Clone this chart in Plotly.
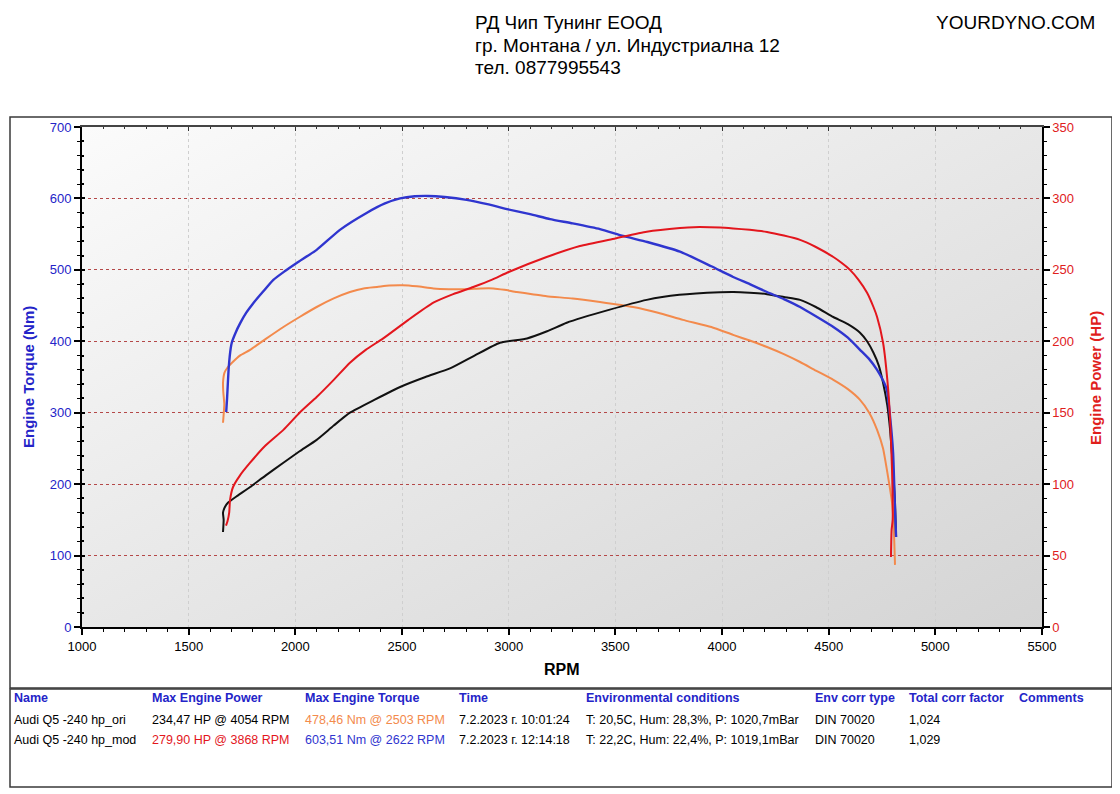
import base64
import plotly.graph_objects as go

# ---------------- data ----------------
# Audi Q5 -240 hp_mod : engine torque (Nm)  -> blue
rpm_mod_tq = [1676, 1680, 1688, 1697, 1702, 1720, 1741, 1770, 1802, 1850, 1897, 1950, 2008, 2100,
              2209, 2336, 2420, 2491, 2560, 2622, 2700, 2803, 2900, 2992, 3100, 3194, 3300, 3428,
              3536, 3650, 3803, 3950, 4052, 4130, 4211, 4290, 4366, 4440, 4522, 4590, 4647, 4690,
              4727, 4755, 4773, 4788, 4802, 4810, 4816]
tq_mod = [301, 320, 364, 390, 398, 412, 425, 440, 453, 470, 486, 498, 510, 528,
          556, 580, 593, 600, 603, 603.5, 602, 598, 592, 585, 578, 571, 565, 557,
          547.5, 539, 525.5, 505, 490, 480, 469, 459, 448, 435, 420, 405, 388, 375,
          360, 345, 332, 294, 244, 174, 126]

# Audi Q5 -240 hp_ori : engine torque (Nm)  -> orange
rpm_ori_tq = [1661, 1667, 1662, 1661, 1668, 1684, 1703, 1740, 1788, 1860, 1944, 2020, 2100, 2180,
              2256, 2320, 2383, 2440, 2503, 2570, 2647, 2720, 2803, 2870, 2928, 2980, 3038, 3110,
              3178, 3300, 3428, 3583, 3700, 3817, 3950, 4052, 4130, 4211, 4290, 4366, 4440, 4522,
              4590, 4647, 4690, 4727, 4755, 4773, 4797, 4805, 4811]
tq_ori = [286, 312, 330, 342, 356, 364, 370, 380, 388, 403, 420, 434, 448, 460,
          469, 474, 476, 478, 478.5, 477, 474, 473, 473, 474, 474, 472, 469, 466,
          463, 460, 455, 448, 440, 430, 420, 409, 401, 392, 382, 371, 359, 346,
          333, 318, 300, 276, 250, 220, 174, 140, 87]

# Audi Q5 -240 hp_mod : engine power (HP)  -> red
rpm_mod_hp = [1675, 1682, 1690, 1694, 1708, 1740, 1788, 1860, 1944, 2020, 2100, 2180, 2256, 2330,
              2412, 2530, 2647, 2740, 2834, 2920, 3000, 3178, 3334, 3500, 3647, 3803, 3868, 3991,
              4052, 4130, 4211, 4290, 4366, 4440, 4522, 4560, 4600, 4640, 4680, 4710, 4727, 4755,
              4778, 4788, 4797, 4800, 4795, 4792]
hp_mod = [71, 74, 80, 89, 98, 106, 115, 127, 138, 150, 161, 173, 185, 194,
          202, 215, 227, 233, 238, 243, 248.5, 259, 266.7, 272, 276.7, 279.3, 279.9, 279.6,
          279, 278, 276.5, 274, 271, 266, 259, 255, 250, 243, 234, 224, 217, 199,
          168, 145, 110, 75, 68, 49]

# Audi Q5 -240 hp_ori : engine power (HP)  -> black
rpm_ori_hp = [1661, 1664, 1661, 1670, 1684, 1730, 1788, 1860, 1944, 2020, 2100, 2180, 2256, 2370,
              2491, 2610, 2725, 2840, 2959, 3086, 3180, 3272, 3470, 3647, 3800, 3991, 4054, 4130,
              4211, 4290, 4366, 4440, 4522, 4590, 4647, 4680, 4710, 4735, 4755, 4775, 4788, 4802,
              4811, 4816]
hp_ori = [66.5, 75, 80, 84, 87, 92, 98, 106, 115, 123, 131, 141, 150, 159,
          168, 175, 181, 190, 199, 202, 207, 213, 222, 229, 232.5, 234.3, 234.5, 234,
          233, 231, 229, 224, 217, 212, 206, 200, 192, 183, 171, 155, 138, 110,
          87, 63]

# header / table text
header_lines = ["РД Чип Тунинг ЕООД", "гр. Монтана / ул. Индустриална 12", "тел. 0877995543"]
site_label = "YOURDYNO.COM"
table_headers = ["Name", "Max Engine Power", "Max Engine Torque", "Time",
                 "Environmental conditions", "Env corr type", "Total corr factor", "Comments"]
row_ori = ["Audi Q5 -240 hp_ori", "234,47 HP @ 4054 RPM", "478,46 Nm @ 2503 RPM",
           "7.2.2023 г. 10:01:24", "T: 20,5C, Hum: 28,3%, P: 1020,7mBar", "DIN 70020", "1,024", ""]
row_mod = ["Audi Q5 -240 hp_mod", "279,90 HP @ 3868 RPM", "603,51 Nm @ 2622 RPM",
           "7.2.2023 г. 12:14:18", "T: 22,2C, Hum: 22,4%, P: 1019,1mBar", "DIN 70020", "1,029", ""]

# ---------------- style ----------------
BLUE = "#2f35cf"
ORANGE = "#f38a4c"
RED = "#e3161d"
BLACK = "#111111"
AXBLUE = "#2424c8"
AXRED = "#e0201c"
FONT = "Liberation Sans, Arial, sans-serif"
NARROW = "Liberation Sans Narrow, Arial Narrow, Liberation Sans, sans-serif"

PAGE_W, PAGE_H = 1120, 794
OFF = 8                       # default body margin of the html page
L, R, T, B = 82, 1042, 127, 627   # plot area in page pixels


def xp(px):
    return (px - L) / (R - L)


def yp(py):
    return (B - py) / (B - T)


SMOOTH = 0.5
fig = go.Figure()
fig.add_trace(go.Scatter(x=rpm_ori_tq, y=tq_ori, mode="lines",
                         line=dict(color=ORANGE, width=2, shape="spline", smoothing=SMOOTH),
                         xaxis="x", yaxis="y", name="Torque ori", hoverinfo="skip"))
fig.add_trace(go.Scatter(x=rpm_mod_tq, y=tq_mod, mode="lines",
                         line=dict(color=BLUE, width=2.4, shape="spline", smoothing=SMOOTH),
                         xaxis="x", yaxis="y3", name="Torque mod", hoverinfo="skip"))
fig.add_trace(go.Scatter(x=rpm_ori_hp, y=hp_ori, mode="lines",
                         line=dict(color=BLACK, width=2, shape="spline", smoothing=SMOOTH),
                         xaxis="x", yaxis="y2", name="Power ori", hoverinfo="skip"))
fig.add_trace(go.Scatter(x=rpm_mod_hp, y=hp_mod, mode="lines",
                         line=dict(color=RED, width=2, shape="spline", smoothing=SMOOTH),
                         xaxis="x3", yaxis="y2", name="Power mod", hoverinfo="skip"))

# gradient plot background (svg data uri)
svg = ('<svg xmlns="http://www.w3.org/2000/svg" width="960" height="500" preserveAspectRatio="none">'
       '<defs><linearGradient id="g" x1="0" y1="0" x2="1" y2="1">'
       '<stop offset="0" stop-color="#fbfbfb"/><stop offset="1" stop-color="#d4d4d4"/>'
       '</linearGradient></defs><rect width="960" height="500" fill="url(#g)"/></svg>')
bg_src = "data:image/svg+xml;base64," + base64.b64encode(svg.encode()).decode()

fig.update_layout(
    width=PAGE_W - OFF, height=PAGE_H - OFF,
    margin=dict(l=L - OFF, r=PAGE_W - R, t=T - OFF, b=PAGE_H - B, pad=0),
    paper_bgcolor="white",
    plot_bgcolor="#e6e6e6",
    showlegend=False,
    images=[dict(source=bg_src, xref="x domain", yref="y domain", x=0, y=1, sizex=1, sizey=1,
                 xanchor="left", yanchor="top", sizing="stretch", layer="below")],
    xaxis=dict(range=[1000, 5500], tick0=1000, dtick=500, ticks="outside", ticklen=6, tickwidth=1.5,
               tickcolor="black", showline=True, linecolor="black", linewidth=2,
               showgrid=True, gridcolor="#cfcfcf", griddash="dot", gridwidth=1, zeroline=False,
               tickfont=dict(family=FONT, size=13, color="black"),
               minor=dict(dtick=100, ticks="outside", ticklen=3, tickcolor="black", tickwidth=1.2,
                          showgrid=False),
               fixedrange=True),
    xaxis3=dict(range=[1000, 5500], overlaying="x", anchor="y2", side="top", tick0=1000, dtick=500,
                ticks="inside", ticklen=4, tickcolor="#333333", tickwidth=1,
                showticklabels=False, showgrid=False, showline=True, linecolor="#444444", linewidth=1.5,
                zeroline=False,
                minor=dict(dtick=100, ticks="inside", ticklen=2, tickcolor="#333333", showgrid=False),
                fixedrange=True),
    yaxis=dict(range=[0, 700], dtick=100, ticks="outside", ticklen=6, tickwidth=1.5, tickcolor="black",
               showline=True, linecolor="black", linewidth=2, zeroline=False,
               showgrid=True, gridcolor="#b44848", griddash="dot", gridwidth=1,
               tickfont=dict(family=FONT, size=13, color=AXBLUE),
               minor=dict(dtick=20, ticks="outside", ticklen=3, tickcolor="black", tickwidth=1.2,
                          showgrid=False),
               fixedrange=True),
    yaxis3=dict(range=[0, 700], overlaying="y", anchor="x", side="left", dtick=100,
                ticks="inside", ticklen=3, tickcolor="black", tickwidth=1.5,
                showticklabels=False, showgrid=False, showline=False, zeroline=False,
                minor=dict(dtick=20, ticks="inside", ticklen=2, tickcolor="black", showgrid=False),
                fixedrange=True),
    yaxis2=dict(range=[0, 350], dtick=50, overlaying="y", side="right", anchor="x",
                ticks="outside", ticklen=6, tickwidth=1.5, tickcolor="black",
                showline=True, linecolor="black", linewidth=1.5, zeroline=False, showgrid=False,
                tickfont=dict(family=FONT, size=13, color=AXRED),
                minor=dict(dtick=10, ticks="outside", ticklen=3, tickcolor="black", tickwidth=1.2,
                           showgrid=False),
                fixedrange=True),
)

shapes = []
# chart frame
shapes.append(dict(type="rect", xref="paper", yref="paper", x0=xp(10), x1=xp(1112), y0=yp(688), y1=yp(117),
                   fillcolor="rgba(0,0,0,0)", line=dict(color="#3a3a3a", width=1.5), layer="below"))
# table frame
shapes.append(dict(type="rect", xref="paper", yref="paper", x0=xp(10), x1=xp(1112), y0=yp(787), y1=yp(689),
                   fillcolor="rgba(0,0,0,0)", line=dict(color="#3a3a3a", width=1.5), layer="below"))

annotations = []
# header
for i, txt in enumerate(header_lines):
    annotations.append(dict(text=txt, xref="paper", yref="paper", x=xp(473), y=yp(22 + i * 23),
                            xanchor="left", yanchor="middle", showarrow=False,
                            font=dict(family=NARROW, size=19, color="black")))
annotations.append(dict(text=site_label, xref="paper", yref="paper", x=xp(1097), y=yp(22),
                        xanchor="right", yanchor="middle", showarrow=False,
                        font=dict(family=NARROW, size=19, color="black")))
# axis titles
annotations.append(dict(text="<b>Engine Torque (Nm)</b>", xref="paper", yref="paper", x=xp(28), y=yp(377),
                        textangle=-90, xanchor="center", yanchor="middle", showarrow=False,
                        font=dict(family=FONT, size=15, color=AXBLUE)))
annotations.append(dict(text="<b>Engine Power (HP)</b>", xref="paper", yref="paper", x=xp(1095), y=yp(378),
                        textangle=-90, xanchor="center", yanchor="middle", showarrow=False,
                        font=dict(family=FONT, size=15, color=AXRED)))
annotations.append(dict(text="<b>RPM</b>", xref="paper", yref="paper", x=xp(562), y=yp(669),
                        xanchor="center", yanchor="middle", showarrow=False,
                        font=dict(family=FONT, size=16, color="black")))

# table
col_x = [12, 150, 303, 457, 584, 813, 907, 1017]
row_y = [698, 720, 740]
for cx, txt in zip(col_x, table_headers):
    annotations.append(dict(text="<b>" + txt + "</b>", xref="paper", yref="paper", x=xp(cx), y=yp(row_y[0]),
                            xanchor="left", yanchor="middle", showarrow=False,
                            font=dict(family=NARROW, size=12.5, color=AXBLUE)))
row_colors = [
    ["black", "black", ORANGE, "black", "black", "black", "black", "black"],
    ["black", RED, BLUE, "black", "black", "black", "black", "black"],
]
for ri, row in enumerate([row_ori, row_mod]):
    for ci, (cx, txt) in enumerate(zip(col_x, row)):
        if not txt:
            continue
        annotations.append(dict(text=txt, xref="paper", yref="paper", x=xp(cx), y=yp(row_y[ri + 1]),
                                xanchor="left", yanchor="middle", showarrow=False,
                                font=dict(family=NARROW, size=12.5, color=row_colors[ri][ci])))

fig.update_layout(shapes=shapes, annotations=annotations)
fig.write_html("out.html")
